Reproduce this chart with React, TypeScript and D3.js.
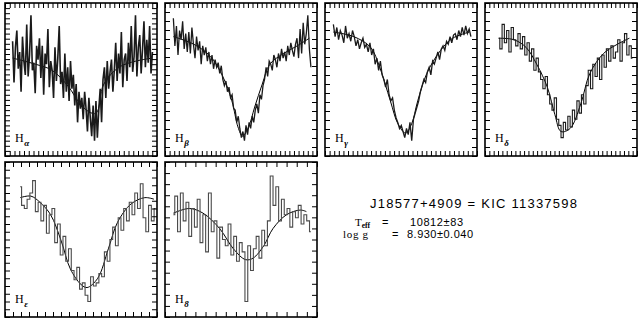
import * as d3 from "d3";
import React, { useEffect, useRef } from "react";

// line names and their greek subscripts
const lines = ["alpha", "beta", "gamma", "delta", "epsilon", "8"];
const subs = ["α", "β", "γ", "δ", "ε", "8"];

// observed spectra (normalized flux, evenly sampled between start and end)
const obsStart = [0.05, 0.055, 0.055, 0.09, 0.1, 0.055];
const obsEnd = [0.97, 0.96, 0.96, 0.97, 0.99, 0.96];

const hAlpha = [
  0.75, 0.48, 0.71, 0.82, 0.57, 0.68, 0.42, 0.78, 0.62, 0.53,
  0.86, 0.52, 0.66, 0.92, 0.56, 0.61, 0.41, 0.72, 0.63, 0.77,
  0.51, 0.72, 0.4, 0.67, 0.6, 0.83, 0.45, 0.62, 0.56, 0.38,
  0.71, 0.49, 0.64, 0.85, 0.47, 0.55, 0.38, 0.67, 0.42, 0.58,
  0.36, 0.62, 0.44, 0.53, 0.33, 0.47, 0.22, 0.42, 0.31, 0.38,
  0.24, 0.42, 0.31, 0.16, 0.38, 0.25, 0.13, 0.33, 0.1, 0.36,
  0.12, 0.3, 0.44, 0.22, 0.5, 0.58, 0.38, 0.62, 0.44, 0.55,
  0.63, 0.42, 0.56, 0.74, 0.49, 0.67, 0.54, 0.81, 0.45, 0.63,
  0.67, 0.49, 0.74, 0.58, 0.85, 0.55, 0.65, 0.92, 0.52, 0.71,
  0.79, 0.54, 0.7, 0.88, 0.58, 0.76, 0.61, 0.85, 0.54, 0.68,
];
const hBeta = [
  0.9, 0.72, 0.85, 0.66, 0.82, 0.76, 0.88, 0.7, 0.8, 0.68,
  0.81, 0.67, 0.84, 0.73, 0.64, 0.78, 0.69, 0.75, 0.6, 0.72,
  0.66, 0.71, 0.62, 0.68, 0.6, 0.66, 0.57, 0.63, 0.58, 0.61,
  0.54, 0.59, 0.5, 0.46, 0.49, 0.42, 0.45, 0.38, 0.4, 0.31,
  0.3, 0.22, 0.26, 0.18, 0.12, 0.16, 0.1, 0.2, 0.14, 0.22,
  0.18, 0.26, 0.22, 0.3, 0.34, 0.28, 0.4, 0.37, 0.46, 0.5,
  0.58, 0.52, 0.62, 0.6, 0.56, 0.66, 0.63, 0.58, 0.67, 0.62,
  0.7, 0.64, 0.68, 0.62, 0.72, 0.66, 0.74, 0.69, 0.65, 0.73,
  0.77, 0.64, 0.83, 0.67, 0.87, 0.73, 0.8, 0.92, 0.7, 0.58,
];
const hGamma = [
  0.86, 0.78, 0.84, 0.76, 0.82, 0.79, 0.74, 0.85, 0.77, 0.8,
  0.75, 0.82, 0.78, 0.72, 0.76, 0.7, 0.74, 0.77, 0.71, 0.73,
  0.68, 0.74, 0.66, 0.7, 0.6, 0.64, 0.56, 0.62, 0.53, 0.5,
  0.45, 0.5, 0.4, 0.36, 0.38, 0.3, 0.25, 0.22, 0.18, 0.2,
  0.16, 0.12, 0.18, 0.14, 0.22, 0.1, 0.24, 0.28, 0.32, 0.36,
  0.42, 0.46, 0.5, 0.48, 0.55, 0.58, 0.53, 0.62, 0.6, 0.64,
  0.68, 0.63, 0.7, 0.72, 0.69, 0.75, 0.73, 0.78, 0.74, 0.79,
  0.8, 0.76, 0.82, 0.78, 0.84, 0.79, 0.85, 0.8, 0.83, 0.78,
];
const hDelta = [
  0.77, 0.7, 0.86, 0.74, 0.82, 0.68, 0.84, 0.76, 0.72, 0.8,
  0.7, 0.78, 0.66, 0.74, 0.62, 0.7, 0.56, 0.64, 0.55, 0.5,
  0.44, 0.52, 0.4, 0.34, 0.3, 0.38, 0.24, 0.2, 0.12, 0.22,
  0.17, 0.26, 0.19, 0.3, 0.24, 0.36, 0.28, 0.4, 0.34, 0.46,
  0.56, 0.44, 0.6, 0.52, 0.64, 0.5, 0.66, 0.58, 0.7, 0.62,
  0.72, 0.64, 0.68, 0.76, 0.62, 0.74, 0.8, 0.66, 0.72, 0.64,
];
const hEpsilon = [
  0.84, 0.72, 0.7, 0.76, 0.8, 0.88, 0.68, 0.74, 0.62, 0.72,
  0.54, 0.66, 0.7, 0.48, 0.6, 0.4, 0.52, 0.36, 0.44, 0.3,
  0.24, 0.32, 0.18, 0.22, 0.14, 0.1, 0.26, 0.2, 0.22, 0.28,
  0.26, 0.42, 0.36, 0.5, 0.58, 0.46, 0.64, 0.56, 0.7, 0.62,
  0.74, 0.66, 0.8, 0.7, 0.86, 0.64, 0.55, 0.72, 0.62, 0.7,
];
const h8 = [
  0.66, 0.78, 0.55, 0.8, 0.62, 0.74, 0.52, 0.7, 0.58, 0.76,
  0.48, 0.66, 0.42, 0.8, 0.55, 0.62, 0.38, 0.58, 0.5, 0.46,
  0.6, 0.4, 0.52, 0.36, 0.48, 0.42, 0.1, 0.46, 0.3, 0.44,
  0.52, 0.38, 0.56, 0.46, 0.62, 0.91, 0.72, 0.84, 0.62, 0.76,
  0.66, 0.7, 0.58, 0.68, 0.64, 0.72, 0.6, 0.66, 0.62, 0.55,
];
const observed = [hAlpha, hBeta, hGamma, hDelta, hEpsilon, h8];

// model fits: [position, flux]
const mAlpha: [number, number][] = [
  [0.05, 0.64], [0.2, 0.6], [0.31, 0.56], [0.42, 0.45], [0.48, 0.36], [0.55, 0.29],
  [0.6, 0.28], [0.65, 0.47], [0.75, 0.58], [0.86, 0.62], [0.97, 0.64],
];
const mBeta: [number, number][] = [
  [0.055, 0.78], [0.19, 0.73], [0.3, 0.65], [0.38, 0.52], [0.44, 0.36], [0.48, 0.19],
  [0.51, 0.13], [0.55, 0.19], [0.59, 0.32], [0.64, 0.47], [0.69, 0.6], [0.78, 0.67],
  [0.87, 0.72], [0.95, 0.77],
];
const mGamma: [number, number][] = [
  [0.055, 0.81], [0.19, 0.78], [0.3, 0.71], [0.36, 0.58], [0.43, 0.36], [0.48, 0.21],
  [0.53, 0.15], [0.57, 0.21], [0.61, 0.36], [0.67, 0.54], [0.76, 0.69], [0.84, 0.77],
  [0.95, 0.81],
];
const mDelta: [number, number][] = [
  [0.09, 0.77], [0.19, 0.76], [0.27, 0.71], [0.34, 0.6], [0.41, 0.45], [0.46, 0.27],
  [0.5, 0.16], [0.56, 0.18], [0.63, 0.34], [0.69, 0.54], [0.78, 0.67], [0.87, 0.73],
  [0.95, 0.77],
];
const mEpsilon: [number, number][] = [
  [0.1, 0.77], [0.17, 0.78], [0.23, 0.74], [0.3, 0.66], [0.37, 0.49], [0.43, 0.31],
  [0.5, 0.21], [0.54, 0.19], [0.61, 0.25], [0.68, 0.44], [0.74, 0.61], [0.83, 0.73],
  [0.92, 0.77], [0.98, 0.76],
];
const m8: [number, number][] = [
  [0.055, 0.67], [0.16, 0.7], [0.25, 0.67], [0.36, 0.57], [0.45, 0.44], [0.53, 0.37],
  [0.58, 0.38], [0.65, 0.46], [0.71, 0.57], [0.8, 0.66], [0.89, 0.69], [0.93, 0.68],
];
const models = [mAlpha, mBeta, mGamma, mDelta, mEpsilon, m8];

// minor tick intervals per panel
const xTickCounts = [32, 33, 33, 35, 19, 15];
const yTickCounts = [30, 17, 17, 17, 20, 14];

const title = "J18577+4909 = KIC 11337598";
const teff = "10812±83";
const logg = "8.930±0.040";

const W = 638;
const H = 324;

const Panel = ({ idx, x0, y0, w, h }) => {
  const ref = useRef(null);
  const x = d3.scaleLinear().domain([0, 1]).range([0, w]);
  const y = d3.scaleLinear().domain([0, 1]).range([h, 0]);

  useEffect(() => {
    const g = d3.select(ref.current);
    g.selectAll(".ax").remove();
    const xt = d3.range(xTickCounts[idx] + 1).map((i) => i / xTickCounts[idx]);
    const yt = d3.range(yTickCounts[idx] + 1).map((i) => i / yTickCounts[idx]);
    const add = (axis, tx, ty) => {
      const a = g
        .append("g")
        .attr("class", "ax")
        .attr("transform", `translate(${tx},${ty})`)
        .call(axis);
      a.select(".domain").remove();
      a.selectAll("text").remove();
      a.selectAll("line").attr("stroke", "#000").attr("stroke-width", 1);
    };
    add(d3.axisBottom(x).tickValues(xt).tickSize(-5).tickFormat(() => ""), 0, h);
    add(d3.axisTop(x).tickValues(xt).tickSize(-5).tickFormat(() => ""), 0, 0);
    add(d3.axisLeft(y).tickValues(yt).tickSize(-5).tickFormat(() => ""), 0, 0);
    add(d3.axisRight(y).tickValues(yt).tickSize(-5).tickFormat(() => ""), w, 0);
  }, [idx]);

  const obs = observed[idx];
  const n = obs.length;
  const xs = d3
    .scaleLinear()
    .domain([0, n - 1])
    .range([obsStart[idx], obsEnd[idx]]);
  const obsLine = d3
    .line<number>()
    .x((d, i) => x(xs(i)))
    .y((d) => y(d))
    .curve(idx < 3 ? d3.curveLinear : d3.curveStep);
  const modelLine = d3
    .line<[number, number]>()
    .x((d) => x(d[0]))
    .y((d) => y(d[1]))
    .curve(d3.curveCatmullRom);

  return (
    <g transform={`translate(${x0},${y0})`} ref={ref}>
      <path d={modelLine(models[idx])} fill="none" stroke="#000" strokeWidth={1} />
      <path
        d={obsLine(obs)}
        fill="none"
        stroke={idx < 4 ? "#1a1a1a" : "#4a4a4a"}
        strokeWidth={idx === 0 ? 1.6 : idx < 3 ? 1.3 : 1.1}
      />
      <rect x={0} y={0} width={w} height={h} fill="none" stroke="#000" strokeWidth={1.6} />
      <text x={10} y={h - 14} fontFamily="Liberation Serif" fontSize={12} fill="#000">
        H
        <tspan dx={0.5} dy={4} fontSize={9} fontWeight="bold" fontStyle="italic">
          {subs[idx]}
        </tspan>
      </text>
    </g>
  );
};

const App = () => {
  const topX = [5, 165, 325, 485];
  const botX = [5, 165];
  const sans = "Liberation Sans";
  const serif = "Liberation Serif";
  return (
    <svg width={W} height={H} style={{ position: "absolute", left: 0, top: 0, background: "#fff" }}>
      {topX.map((px, i) => (
        <Panel key={lines[i]} idx={i} x0={px} y0={3} w={152} h={153} />
      ))}
      {botX.map((px, i) => (
        <Panel key={lines[i + 4]} idx={i + 4} x0={px} y0={162} w={152} h={155} />
      ))}
      <text x={370} y={208} fontFamily={sans} fontSize={13} textLength={207} lengthAdjust="spacing">
        {title}
      </text>
      <text x={355} y={226} fontFamily={serif} fontSize={11}>
        T
        <tspan fontSize={7.5} fontWeight="bold" dy={1.5}>eff</tspan>
      </text>
      <text x={382} y={226} fontFamily={sans} fontSize={11}>=</text>
      <text x={410} y={226} fontFamily={sans} fontSize={11} textLength={53} lengthAdjust="spacing">
        {teff}
      </text>
      <text x={343} y={238} fontFamily={serif} fontSize={11} textLength={25} lengthAdjust="spacing">
        log g
      </text>
      <text x={392} y={238} fontFamily={sans} fontSize={11}>=</text>
      <text x={407} y={238} fontFamily={sans} fontSize={11} textLength={66} lengthAdjust="spacing">
        {logg}
      </text>
    </svg>
  );
};

export default App;
